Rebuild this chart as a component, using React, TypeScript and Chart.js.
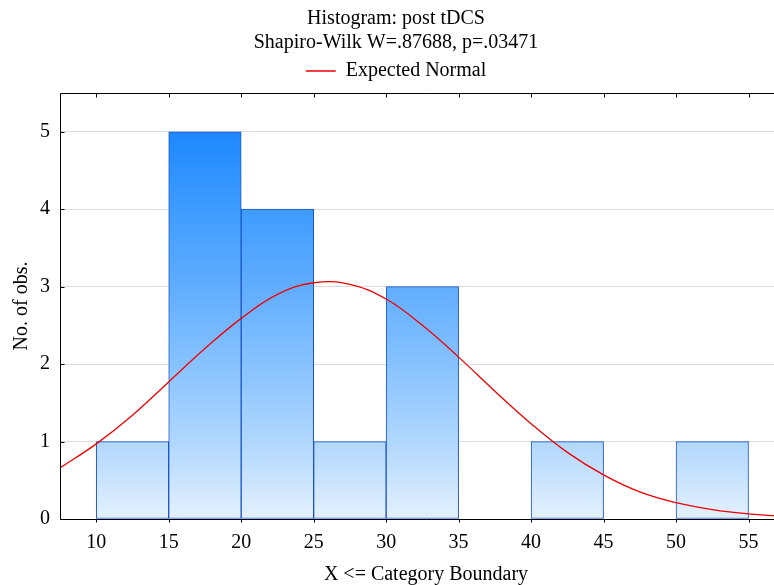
import React, { useEffect, useRef } from "react";
import { Chart, registerables } from "chart.js";

Chart.register(...registerables);

const titleLines = ["Histogram: post tDCS", "Shapiro-Wilk W=.87688, p=.03471"];
const legendLabel = "Expected Normal";
const xAxisTitle = "X <= Category Boundary";
const yAxisTitle = "No. of obs.";

// bin centres (bins of width 5, upper boundary = label)
const binCenters = [12.5, 17.5, 22.5, 27.5, 32.5, 37.5, 42.5, 47.5, 52.5];
const binCounts = [1, 5, 4, 1, 3, null, 1, null, 1];

// expected normal curve
const curveX = [7.5, 10, 12.5, 15, 17.5, 20, 22.5, 25, 27.5, 30, 32.5, 35, 37.5, 40, 42.5, 45, 47.5, 50, 52.5, 55, 58];
const curveY = [0.66, 0.97, 1.34, 1.77, 2.2, 2.59, 2.9, 3.05, 3.03, 2.84, 2.5, 2.09, 1.65, 1.23, 0.86, 0.57, 0.35, 0.21, 0.12, 0.065, 0.028];

const xMin = 7.5;
const xMax = 58;
const yMin = 0;
const yMax = 5.5;

const FONT = "'Liberation Serif', 'Times New Roman', serif";
const FS = 20;

const framePlugin = {
  id: "frame",
  afterDatasetsDraw(chart: any) {
    const { ctx, chartArea, scales } = chart;
    const { left, top, right, bottom } = chartArea;
    ctx.save();
    ctx.strokeStyle = "#000";
    ctx.lineWidth = 1;
    ctx.beginPath();
    const L = Math.round(left) + 0.5;
    const T = Math.round(top) + 0.5;
    const B = Math.round(bottom) + 0.5;
    ctx.moveTo(right, T);
    ctx.lineTo(L, T);
    ctx.lineTo(L, B);
    ctx.lineTo(right, B);
    ctx.stroke();
    ctx.beginPath();
    scales.x.ticks.forEach((t: any) => {
      const px = Math.round(scales.x.getPixelForValue(t.value)) + 0.5;
      ctx.moveTo(px, T);
      ctx.lineTo(px, T + 4);
      ctx.moveTo(px, B);
      ctx.lineTo(px, B + 3);
    });
    scales.y.ticks.forEach((t: any) => {
      const py = Math.round(scales.y.getPixelForValue(t.value)) + 0.5;
      ctx.moveTo(L, py);
      ctx.lineTo(L + 4, py);
    });
    ctx.stroke();
    ctx.restore();
  },
};

function barGradient(context: any) {
  const chart = context.chart;
  const { chartArea, scales } = chart;
  if (!chartArea || !scales.y) return "rgb(120,185,255)";
  const y0 = scales.y.getPixelForValue(5);
  const y1 = scales.y.getPixelForValue(0);
  const g = chart.ctx.createLinearGradient(0, y0, 0, y1);
  g.addColorStop(0, "rgb(30,136,255)");
  g.addColorStop(0.2, "rgb(62,156,255)");
  g.addColorStop(0.4, "rgb(96,173,255)");
  g.addColorStop(0.6, "rgb(135,194,255)");
  g.addColorStop(0.8, "rgb(176,215,253)");
  g.addColorStop(1, "rgb(228,241,254)");
  return g;
}

export default function App() {
  const ref = useRef<HTMLCanvasElement | null>(null);
  useEffect(() => {
    document.body.style.margin = "0";
    Chart.defaults.color = "#000";
    const chart = new Chart(ref.current as HTMLCanvasElement, {
      type: "bar",
      data: {
        datasets: [
          {
            type: "bar",
            label: "Histogram",
            data: binCenters.map((c, i) => ({ x: c, y: binCounts[i] })),
            backgroundColor: barGradient,
            borderColor: "#1a55c8",
            borderWidth: 1,
            borderSkipped: false,
            barPercentage: 1,
            categoryPercentage: 1,
            order: 2,
          } as any,
          {
            type: "line",
            label: legendLabel,
            data: curveX.map((x, i) => ({ x, y: curveY[i] })),
            borderColor: "#f00000",
            backgroundColor: "#f00000",
            borderWidth: 1.3,
            pointRadius: 0,
            tension: 0.4,
            order: 1,
          } as any,
        ],
      },
      options: {
        responsive: false,
        animation: false,
        layout: { padding: { left: 0, top: 0, bottom: 0, right: 16 } },
        plugins: {
          title: {
            display: true,
            text: titleLines,
            font: { family: FONT, size: FS, weight: "normal", lineHeight: 24 / FS },
            color: "#000",
            padding: { top: 7, bottom: 0 },
          },
          legend: {
            display: true,
            labels: {
              font: { family: FONT, size: FS },
              color: "#000",
              usePointStyle: true,
              pointStyleWidth: 30,
              padding: 6,
              generateLabels: () => [
                {
                  text: legendLabel,
                  fillStyle: "#f00000",
                  strokeStyle: "#f00000",
                  lineWidth: 1.5,
                  pointStyle: "line",
                  datasetIndex: 1,
                  hidden: false,
                },
              ],
            },
          },
          tooltip: { enabled: false },
        },
        scales: {
          x: {
            type: "linear",
            position: "bottom",
            min: xMin,
            max: xMax,
            offset: false,
            grid: { display: false, offset: false },
            border: { display: false },
            ticks: {
              stepSize: 5,
              includeBounds: false,
              autoSkip: false,
              maxRotation: 0,
              padding: 4,
              font: { family: FONT, size: FS },
              color: "#000",
            },
            title: {
              display: true,
              text: xAxisTitle,
              font: { family: FONT, size: FS },
              color: "#000",
              padding: { top: 0, bottom: -2 },
            },
            afterFit: (s: any) => {
              s.height = 66;
            },
          },
          x2: {
            type: "linear",
            position: "top",
            min: xMin,
            max: xMax,
            display: true,
            grid: { display: false, drawTicks: false },
            border: { display: false },
            ticks: { display: false },
            afterFit: (s: any) => {
              s.height = 2;
            },
          },
          y: {
            type: "linear",
            min: yMin,
            max: yMax,
            grid: { color: "#dcdcdc", lineWidth: 1, drawTicks: false },
            border: { display: false },
            ticks: {
              stepSize: 1,
              includeBounds: false,
              padding: 10,
              font: { family: FONT, size: FS },
              color: "#000",
            },
            title: {
              display: true,
              text: yAxisTitle,
              font: { family: FONT, size: FS },
              color: "#000",
              padding: { top: 10, bottom: 0 },
            },
            afterFit: (s: any) => {
              s.width = 60;
            },
          },
        },
      } as any,
      plugins: [framePlugin],
    });
    return () => chart.destroy();
  }, []);
  return (
    <div style={{ width: 774, height: 585, overflow: "hidden", position: "relative" }}>
      <canvas ref={ref} width={808} height={585} style={{ display: "block" }} />
    </div>
  );
}
